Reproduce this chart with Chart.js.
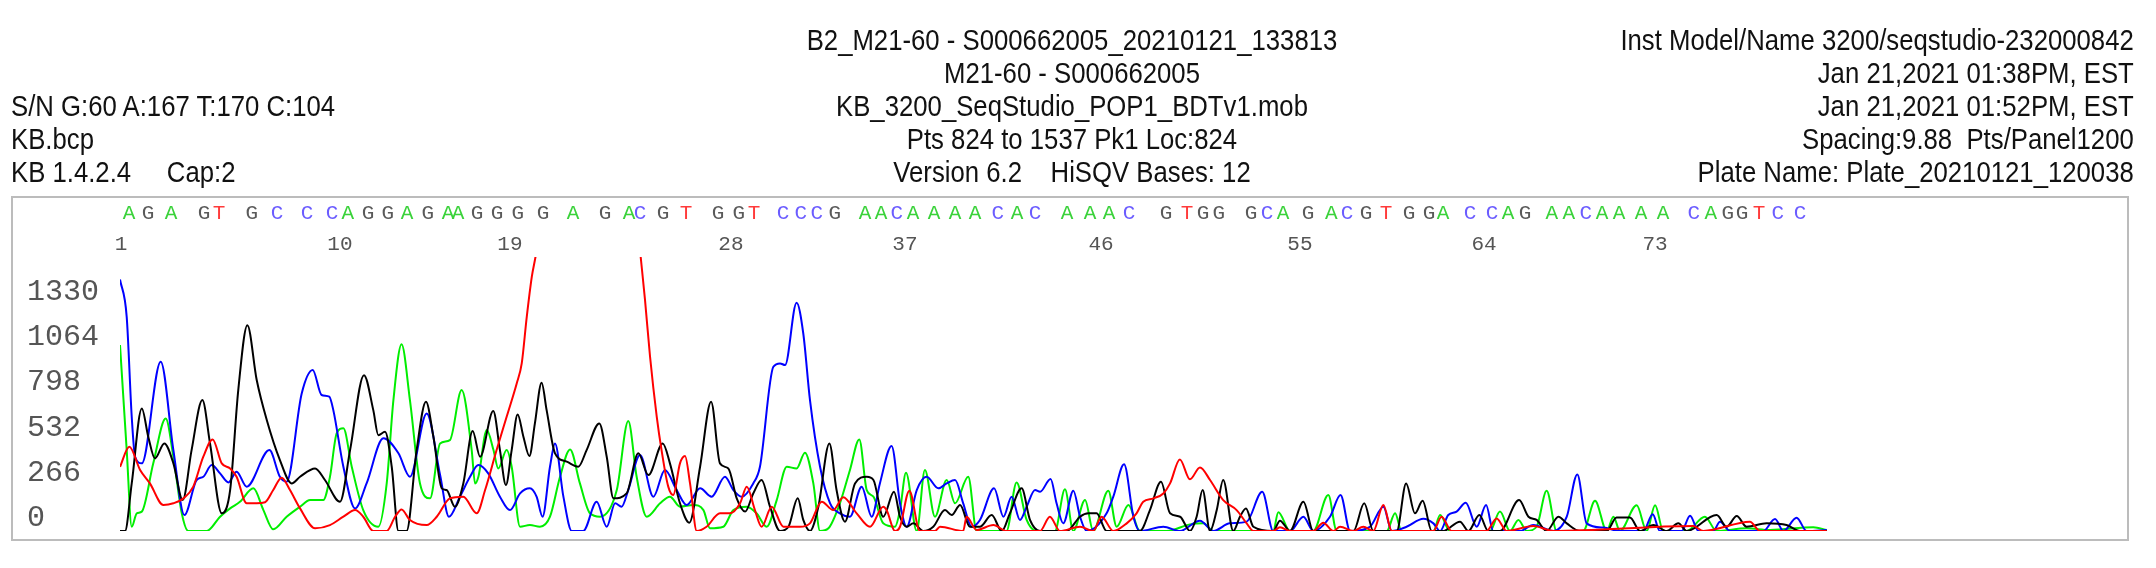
<!DOCTYPE html>
<html lang="en">
<head>
    <meta charset="UTF-8">
    <title>B2_M21-60 - S000662005 trace</title>
    <script src="https://cdn.jsdelivr.net/npm/chart.js"></script>
    <style>
        html, body {
            margin: 0;
            padding: 0;
            background: #fff;
        }
        #page {
            position: relative;
            width: 2156px;
            height: 568px;
            overflow: hidden;
            font-family: 'Liberation Sans', Arial, sans-serif;
            color: #111;
        }
        #page canvas {
            position: absolute;
            left: 0;
            top: 0;
        }
        .hdr {
            position: absolute;
            font-size: 29px;
            line-height: 33px;
            white-space: pre;
            z-index: 2;
        }
        .hdr.left { left: 11px; top: 90px; transform: scaleX(0.887); transform-origin: left top; }
        .hdr.center { left: 0; width: 2144px; top: 24px; text-align: center; transform: scaleX(0.887); transform-origin: center top; }
        .hdr.right { right: 22px; top: 24px; text-align: right; transform: scaleX(0.887); transform-origin: right top; }
    </style>
</head>
<body>
<div id="page">
    <canvas id="trace" width="2156" height="568"></canvas>
    <div class="hdr left">S/N G:60 A:167 T:170 C:104<br>KB.bcp<br>KB 1.4.2.4     Cap:2</div>
    <div class="hdr center">B2_M21-60 - S000662005_20210121_133813<br>M21-60 - S000662005<br>KB_3200_SeqStudio_POP1_BDTv1.mob<br>Pts 824 to 1537 Pk1 Loc:824<br>Version 6.2    HiSQV Bases: 12</div>
    <div class="hdr right">Inst Model/Name 3200/seqstudio-232000842<br>Jan 21,2021 01:38PM, EST<br>Jan 21,2021 01:52PM, EST<br>Spacing:9.88  Pts/Panel1200<br>Plate Name: Plate_20210121_120038</div>
</div>

<script>
    // scan range shown and signal ticks
    const scanStart = 824;
    const scanEnd = 1537;
    const yTicks = [0, 266, 532, 798, 1064, 1330];

    // base calls and where they sit (scan points)
    const baseCalls = 'AGAGTGCCCAGGAGAAGGGGAGACGTGGTCCCGAACAAAACACAAACGTGGGCAGACGTGGACCAGAACAAAACAGGTCC';
    const basePos = [827.8, 835.7, 845.3, 859.1, 865.4, 879.1, 889.6, 902.1, 912.6, 919.2,
        927.6, 935.9, 943.9, 952.6, 961.0, 965.2, 973.1, 981.5, 990.2, 1000.7,
        1013.2, 1026.6, 1036.6, 1041.2, 1050.8, 1060.4, 1073.8, 1082.5, 1088.8, 1100.9,
        1108.4, 1115.1, 1122.6, 1135.2, 1141.9, 1148.5, 1155.2, 1164.0, 1172.8, 1181.1,
        1190.7, 1198.7, 1206.2, 1219.6, 1229.2, 1237.1, 1245.5, 1260.9, 1269.7, 1276.4,
        1283.0, 1296.4, 1303.1, 1309.8, 1320.2, 1329.9, 1336.5, 1344.5, 1352.8, 1362.4,
        1370.8, 1376.6, 1387.9, 1397.1, 1403.8, 1410.9, 1422.1, 1429.2, 1436.3, 1443.0,
        1450.1, 1459.3, 1468.5, 1481.4, 1488.5, 1495.6, 1501.5, 1508.6, 1516.5, 1525.7];
    const baseNumbers = [1, 10, 19, 28, 37, 46, 55, 64, 73];

    // dye traces, [scan point, signal]
    const traceG = [[824.0,0],[826.1,0],[828.9,280],[833.1,721],[835.8,555],[838.6,427],[842.5,515],[846.3,398],[850.2,182],[853.9,476],
        [858.4,770],[861.6,515],[866.5,104],[870.0,241],[873.4,829],[877.2,1211],[881.1,888],[885.3,653],[890.8,417],[895.7,280],
        [899.2,319],[905.5,368],[909.6,300],[915.9,172],[920.1,476],[925.9,917],[929.8,711],[931.9,564],[934.7,584],[937.5,378],
        [940.3,0],[943.7,0],[947.9,476],[951.8,760],[954.9,555],[958.4,251],[960.4,241],[963.9,143],[967.4,280],[971.3,588],
        [974.4,437],[979.9,706],[982.7,476],[985.2,270],[987.6,476],[990.1,686],[992.5,555],[995.0,441],[997.3,633],[1000.1,872],
        [1002.2,711],[1005.7,457],[1010.6,408],[1015.4,378],[1018.9,476],[1024.2,633],[1027.3,437],[1030.1,192],[1035.6,221],[1040.5,457],
        [1044.7,329],[1050.7,515],[1053.7,398],[1057.9,163],[1061.8,49],[1066.3,378],[1070.9,760],[1074.6,398],[1078.1,368],[1081.6,192],
        [1085.1,114],[1088.5,221],[1092.0,300],[1095.5,143],[1099.7,0],[1103.2,25],[1107.1,192],[1109.4,65],[1112.2,0],[1115.7,143],
        [1120.3,515],[1123.3,241],[1126.8,55],[1131.0,280],[1135.9,319],[1138.7,300],[1142.8,84],[1147.3,231],[1149.8,84],[1152.6,25],
        [1155.4,45],[1159.5,0],[1163.7,25],[1168.6,123],[1171.4,94],[1174.9,153],[1179.0,25],[1183.2,25],[1188.1,94],[1192.3,0],
        [1195.7,104],[1200.6,251],[1204.1,65],[1208.3,0],[1219.4,0],[1225.0,84],[1228.5,104],[1231.9,104],[1236.1,0],[1250.0,0],
        [1254.2,123],[1258.8,290],[1262.6,104],[1266.8,84],[1270.9,0],[1273.7,84],[1276.2,241],[1279.3,0],[1282.1,123],[1284.8,300],
        [1289.0,0],[1291.8,84],[1294.3,133],[1297.4,25],[1305.7,0],[1308.5,61],[1312.7,0],[1318.3,172],[1322.4,0],[1339.2,0],
        [1343.7,163],[1347.5,0],[1357.3,0],[1361.2,280],[1364.9,104],[1368.1,178],[1371.9,0],[1376.7,0],[1383.7,55],[1387.2,0],
        [1391.8,94],[1395.5,0],[1400.4,0],[1408.4,182],[1412.3,84],[1415.7,65],[1419.9,0],[1424.8,84],[1428.3,45],[1433.8,0],
        [1445.0,0],[1449.1,80],[1454.7,80],[1458.9,0],[1464.5,35],[1470.0,0],[1474.9,45],[1478.4,0],[1490.9,94],[1495.1,25],
        [1499.3,88],[1503.4,25],[1511.8,45],[1520.1,35],[1525.7,0],[1536.9,0]];

    const traceA = [[824.0,1094],[826.8,476],[828.9,25],[831.0,104],[833.1,114],[837.9,398],[843.1,662],[846.3,437],[849.8,104],[852.5,0],
        [860.2,0],[865.8,84],[870.0,133],[874.1,172],[879.7,251],[883.9,123],[888.0,10],[893.6,84],[899.2,143],[903.4,182],
        [908.9,182],[911.7,319],[914.5,574],[917.3,604],[920.8,378],[925.6,123],[931.9,25],[935.4,280],[938.2,770],[941.6,1098],
        [945.1,770],[949.3,280],[953.5,192],[957.7,515],[961.8,535],[966.7,829],[970.9,476],[972.3,280],[973.7,319],[977.2,594],
        [980.0,476],[982.0,368],[985.5,476],[987.6,378],[991.1,25],[995.2,35],[999.4,25],[1003.6,84],[1007.8,319],[1012.0,480],
        [1016.1,280],[1020.3,104],[1024.5,84],[1031.5,241],[1036.3,647],[1039.8,319],[1044.0,84],[1049.6,163],[1053.7,202],[1057.9,143],
        [1063.5,153],[1067.7,123],[1070.4,16],[1076.0,25],[1080.2,123],[1085.8,143],[1089.9,104],[1094.1,25],[1098.3,182],[1102.5,378],
        [1106.6,368],[1110.1,461],[1113.6,280],[1116.4,0],[1119.9,16],[1124.7,163],[1128.9,359],[1132.8,539],[1135.9,241],[1138.7,202],
        [1142.8,45],[1147.7,25],[1149.8,123],[1152.3,343],[1156.8,0],[1160.2,359],[1164.4,84],[1169.3,300],[1172.8,163],[1178.3,319],
        [1181.8,0],[1194.3,0],[1198.5,286],[1202.7,65],[1206.9,0],[1214.5,0],[1218.7,245],[1222.2,0],[1227.1,182],[1230.5,0],
        [1236.8,237],[1240.3,25],[1245.2,153],[1250.0,0],[1261.2,0],[1270.9,39],[1276.5,45],[1280.7,0],[1305.7,0],[1307.8,110],
        [1312.7,0],[1322.4,0],[1328.7,212],[1332.2,0],[1353.1,0],[1356.6,104],[1359.3,0],[1372.6,0],[1375.4,94],[1379.5,0],
        [1396.2,0],[1400.4,114],[1404.6,0],[1408.1,65],[1411.6,0],[1415.7,25],[1419.9,237],[1424.1,0],[1435.2,0],[1440.1,178],
        [1445.0,0],[1447.8,84],[1450.5,0],[1457.5,151],[1461.7,0],[1465.2,151],[1468.6,0],[1478.4,0],[1486.0,84],[1490.9,0],
        [1503.4,16],[1513.2,6],[1531.3,22],[1536.9,6]];

    const traceT = [[824.0,378],[827.9,496],[832.4,359],[836.5,280],[842.1,153],[846.3,163],[850.5,192],[854.6,261],[858.8,437],[862.7,539],
        [866.5,398],[870.0,368],[872.7,319],[876.9,163],[881.1,163],[884.6,169],[888.0,241],[891.5,314],[895.0,241],[899.2,133],
        [905.5,16],[911.7,35],[917.3,84],[922.2,123],[925.6,84],[929.8,0],[935.4,0],[938.9,84],[941.6,127],[945.1,65],
        [952.1,35],[956.3,84],[961.8,192],[967.4,202],[973.0,104],[976.5,241],[981.3,476],[985.5,672],[989.7,868],[991.8,986],
        [993.9,1260],[996.0,1495],[998.0,1652],[1004.0,2400],[1012.0,2900],[1020.0,3000],[1028.0,2900],[1036.0,2400],[1041.2,1652],[1043.3,1358],
        [1045.4,1025],[1048.2,672],[1050.2,476],[1053.0,261],[1055.1,212],[1057.9,398],[1060.0,441],[1062.1,280],[1064.9,0],[1069.0,25],
        [1074.6,104],[1078.8,104],[1083.0,163],[1085.8,261],[1089.2,123],[1092.0,25],[1096.2,143],[1101.1,25],[1108.0,25],[1112.2,45],
        [1117.1,172],[1121.9,123],[1126.1,198],[1131.7,104],[1137.3,25],[1142.8,143],[1144.2,123],[1147.7,0],[1149.8,25],[1153.7,237],
        [1158.1,0],[1164.4,0],[1166.5,25],[1176.2,0],[1177.6,84],[1181.8,6],[1188.8,35],[1194.3,0],[1208.3,0],[1212.4,84],
        [1216.6,0],[1225.0,25],[1230.5,0],[1234.0,84],[1238.9,0],[1244.5,45],[1248.6,104],[1251.4,172],[1255.6,192],[1259.8,221],
        [1262.6,280],[1266.7,421],[1270.9,304],[1275.1,374],[1279.3,300],[1284.8,182],[1290.4,123],[1294.6,45],[1297.4,0],[1305.7,0],
        [1308.5,22],[1312.7,0],[1322.4,0],[1326.6,49],[1330.8,0],[1333.6,25],[1339.2,0],[1343.3,25],[1347.5,0],[1351.7,153],
        [1355.2,0],[1372.6,0],[1376.0,84],[1380.2,0],[1394.8,0],[1399.0,74],[1403.2,0],[1414.3,29],[1422.7,0],[1481.2,29],
        [1485.3,0],[1504.8,55],[1509.0,0],[1536.9,0]];

    const traceC = [[824.0,1480],[826.8,1260],[828.9,672],[830.3,437],[833.1,398],[841.0,996],[846.3,476],[850.9,94],[856.0,300],[858.8,319],
        [862.3,388],[865.8,339],[869.3,286],[872.7,349],[876.9,261],[886.4,476],[890.8,319],[893.6,290],[899.9,809],[904.5,947],
        [908.2,800],[911.4,790],[913.1,711],[917.3,378],[922.2,133],[927.0,280],[934.0,545],[940.3,457],[945.1,319],[952.1,692],
        [957.7,330],[961.4,84],[966.0,202],[970.2,319],[973.7,388],[977.8,339],[982.7,202],[986.9,123],[991.1,221],[995.2,251],
        [998.0,202],[1000.5,84],[1003.6,378],[1005.7,515],[1009.2,202],[1012.7,0],[1017.5,0],[1023.1,172],[1027.3,25],[1030.8,163],
        [1033.5,143],[1036.3,241],[1041.2,447],[1046.8,202],[1051.6,359],[1056.5,241],[1060.7,153],[1066.3,251],[1071.1,202],[1076.7,319],
        [1080.2,241],[1083.7,202],[1088.5,280],[1091.3,378],[1096.9,966],[1099.7,986],[1101.8,976],[1106.6,1343],[1109.4,1162],[1112.2,770],
        [1116.4,378],[1120.6,163],[1124.7,104],[1128.9,84],[1133.8,261],[1138.0,84],[1141.4,280],[1146.3,500],[1149.8,163],[1152.6,25],
        [1156.8,241],[1160.9,319],[1165.8,251],[1169.3,280],[1172.8,300],[1176.2,163],[1179.7,25],[1183.2,65],[1189.1,251],[1193.0,84],
        [1196.4,202],[1199.9,65],[1202.7,143],[1206.2,241],[1208.3,231],[1212.7,306],[1215.2,163],[1218.0,45],[1222.2,237],[1225.0,84],
        [1227.8,0],[1236.1,104],[1238.9,202],[1243.4,392],[1247.3,84],[1250.0,0],[1259.8,25],[1266.7,0],[1275.1,61],[1280.7,0],
        [1287.6,45],[1294.6,55],[1301.1,231],[1305.7,0],[1312.7,0],[1318.3,84],[1322.4,0],[1329.4,84],[1333.8,212],[1337.8,0],
        [1346.1,25],[1351.7,143],[1355.2,0],[1361.4,25],[1368.4,72],[1372.6,45],[1375.4,0],[1378.8,94],[1382.3,114],[1386.1,166],
        [1390.7,25],[1394.6,153],[1397.6,0],[1408.8,0],[1414.3,35],[1422.7,0],[1428.3,84],[1432.7,333],[1436.6,45],[1443.6,20],
        [1450.5,0],[1460.3,0],[1464.2,98],[1467.2,0],[1476.3,0],[1479.8,90],[1483.3,0],[1489.5,0],[1492.3,55],[1496.5,0],
        [1510.4,0],[1515.3,70],[1518.8,0],[1524.3,78],[1528.5,0],[1536.9,6]];

    const dyeColors = { G: '#000000', A: '#00ee00', T: '#ff0000', C: '#0000ff' };
    const letterColors = { G: '#5a5a5a', A: '#3ad23a', T: '#ff3b3b', C: '#6b5cff' };

    function toPoints(trace) {
        return trace.map(([x, y]) => ({ x, y }));
    }

    function makeSet(label, trace, order) {
        return {
            label: label,
            data: toPoints(trace),
            borderColor: dyeColors[label],
            borderWidth: 2,
            pointRadius: 0,
            fill: false,
            cubicInterpolationMode: 'monotone',
            order: order
        };
    }

    // box, base calls, numbering and signal labels
    const overlay = {
        id: 'overlay',
        beforeDraw(chart) {
            const ctx = chart.ctx;
            ctx.save();
            ctx.strokeStyle = '#bcbcbc';
            ctx.lineWidth = 2;
            ctx.strokeRect(12, 197, 2116, 343);
            ctx.restore();
        },
        afterDraw(chart) {
            const { ctx, scales: { x, y } } = chart;
            ctx.save();
            ctx.textAlign = 'center';
            ctx.textBaseline = 'middle';
            ctx.font = '21px "Liberation Mono", monospace';
            baseCalls.split('').forEach((b, i) => {
                ctx.fillStyle = letterColors[b];
                ctx.fillText(b, x.getPixelForValue(basePos[i]), 213);
            });
            ctx.fillStyle = '#555';
            baseNumbers.forEach(n => {
                ctx.fillText(String(n), x.getPixelForValue(basePos[n - 1]) - 8, 244);
            });
            ctx.font = '30px "Liberation Mono", monospace';
            ctx.textAlign = 'left';
            yTicks.forEach(v => {
                ctx.fillText(String(v), 27, y.getPixelForValue(v) - 13);
            });
            ctx.restore();
        }
    };

    new Chart(document.getElementById('trace'), {
        type: 'line',
        data: {
            datasets: [
                makeSet('T', traceT, 0),
                makeSet('G', traceG, 1),
                makeSet('C', traceC, 2),
                makeSet('A', traceA, 3)
            ]
        },
        options: {
            responsive: false,
            devicePixelRatio: 1,
            animation: false,
            events: [],
            layout: { padding: { left: 120, right: 329, top: 257, bottom: 37 } },
            scales: {
                x: { type: 'linear', min: scanStart, max: scanEnd, display: false },
                y: { min: 0, max: 1612, display: false }
            },
            plugins: {
                legend: { display: false },
                tooltip: { enabled: false }
            }
        },
        plugins: [overlay]
    });
</script>
</body>
</html>
